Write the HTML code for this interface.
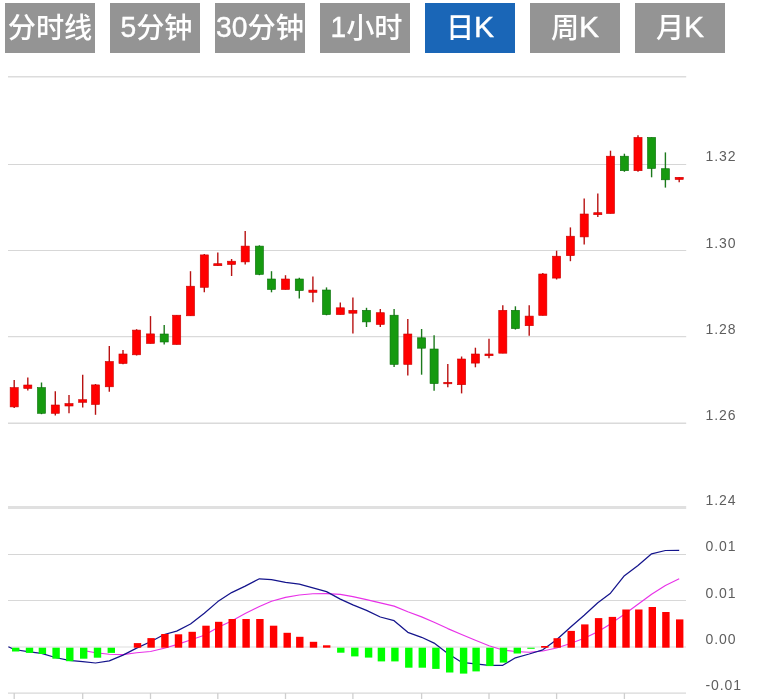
<!DOCTYPE html>
<html lang="zh-CN"><head><meta charset="utf-8"><title>K线图</title>
<style>
html,body{margin:0;padding:0;background:#fff;}
body{width:764px;height:699px;position:relative;overflow:hidden;font-family:"Liberation Sans","Noto Sans CJK SC",sans-serif;}
.tab{position:absolute;top:3px;width:90px;height:49.5px;line-height:50.6px;background:#949494;color:#fff;font-size:28.2px;font-weight:500;text-align:center;white-space:nowrap;}
.tab.on{background:#1a66b7;}
.l{font-size:30px;position:relative;top:-1px;-webkit-text-stroke:0.4px #fff;}
.d{display:inline-block;transform:scaleX(.94);margin:0 -1px;}
svg{position:absolute;left:0;top:0;}
.yl{font-family:"Liberation Sans",sans-serif;font-size:14px;fill:#5e5e5e;letter-spacing:0.9px;}
</style></head><body>
<div class="tabs"><div class="tab" style="left:5px">分时线</div><div class="tab" style="left:110px;text-indent:2px"><span class="l d">5</span>分钟</div><div class="tab" style="left:215px"><span class="l d">30</span>分钟</div><div class="tab" style="left:320px;text-indent:2px"><span class="l d">1</span>小时</div><div class="tab on" style="left:425px">日<span class="l">K</span></div><div class="tab" style="left:530px">周<span class="l">K</span></div><div class="tab" style="left:635px">月<span class="l">K</span></div></div>
<svg width="764" height="699" viewBox="0 0 764 699">
<line x1="8" x2="686.2" y1="76.8" y2="76.8" stroke="#dcdcdc" stroke-width="1.4"/>
<line x1="8" x2="686.2" y1="164.5" y2="164.5" stroke="#d6d6d6" stroke-width="1.0"/>
<line x1="8" x2="686.2" y1="250.55" y2="250.55" stroke="#d7d7d7" stroke-width="1.1"/>
<line x1="8" x2="686.2" y1="336.7" y2="336.7" stroke="#dadada" stroke-width="1.3"/>
<line x1="8" x2="686.2" y1="423.2" y2="423.2" stroke="#dadada" stroke-width="1.4"/>
<rect x="8" y="506" width="678.2" height="3" fill="#e0e0e0"/>
<line x1="8" x2="686" y1="554.5" y2="554.5" stroke="#d6d6d6" stroke-width="1.0"/>
<line x1="8" x2="686" y1="600.55" y2="600.55" stroke="#d8d8d8" stroke-width="1.1"/>
<line x1="8" x2="686" y1="647.0" y2="647.0" stroke="#e8e8e8" stroke-width="1.3"/>
<line x1="8" x2="686" y1="693.1" y2="693.1" stroke="#d8d8d8" stroke-width="1.4"/>
<line x1="14.20" x2="14.20" y1="693" y2="699" stroke="#cfcfcf" stroke-width="1.3"/>
<line x1="82.70" x2="82.70" y1="693" y2="699" stroke="#cfcfcf" stroke-width="1.3"/>
<line x1="150.50" x2="150.50" y1="693" y2="699" stroke="#cfcfcf" stroke-width="1.3"/>
<line x1="217.80" x2="217.80" y1="693" y2="699" stroke="#cfcfcf" stroke-width="1.3"/>
<line x1="285.50" x2="285.50" y1="693" y2="699" stroke="#cfcfcf" stroke-width="1.3"/>
<line x1="352.90" x2="352.90" y1="693" y2="699" stroke="#cfcfcf" stroke-width="1.3"/>
<line x1="421.60" x2="421.60" y1="693" y2="699" stroke="#cfcfcf" stroke-width="1.3"/>
<line x1="489.00" x2="489.00" y1="693" y2="699" stroke="#cfcfcf" stroke-width="1.3"/>
<line x1="556.60" x2="556.60" y1="693" y2="699" stroke="#cfcfcf" stroke-width="1.3"/>
<line x1="624.40" x2="624.40" y1="693" y2="699" stroke="#cfcfcf" stroke-width="1.3"/>
<line x1="14.20" x2="14.20" y1="380.0" y2="408.0" stroke="#b81212" stroke-width="1.4"/>
<rect x="10.15" y="387.6" width="8.1" height="19.3" fill="#ff0000" stroke="#c80000" stroke-width="0.6"/>
<line x1="27.80" x2="27.80" y1="377.5" y2="390.4" stroke="#b81212" stroke-width="1.4"/>
<rect x="23.75" y="385.0" width="8.1" height="3.5" fill="#ff0000" stroke="#c80000" stroke-width="0.6"/>
<line x1="41.50" x2="41.50" y1="382.5" y2="414.2" stroke="#1c7a1c" stroke-width="1.4"/>
<rect x="37.45" y="387.6" width="8.1" height="25.7" fill="#169a10" stroke="#0a6e0a" stroke-width="0.6"/>
<line x1="55.30" x2="55.30" y1="391.3" y2="415.5" stroke="#b81212" stroke-width="1.4"/>
<rect x="51.25" y="405.0" width="8.1" height="8.3" fill="#ff0000" stroke="#c80000" stroke-width="0.6"/>
<line x1="69.00" x2="69.00" y1="395.0" y2="413.3" stroke="#b81212" stroke-width="1.4"/>
<rect x="64.95" y="403.6" width="8.1" height="2.4" fill="#ff0000" stroke="#c80000" stroke-width="0.6"/>
<line x1="82.70" x2="82.70" y1="374.8" y2="407.4" stroke="#b81212" stroke-width="1.4"/>
<rect x="78.65" y="399.7" width="8.1" height="2.6" fill="#ff0000" stroke="#c80000" stroke-width="0.6"/>
<line x1="95.50" x2="95.50" y1="384.0" y2="414.8" stroke="#b81212" stroke-width="1.4"/>
<rect x="91.45" y="384.9" width="8.1" height="19.6" fill="#ff0000" stroke="#c80000" stroke-width="0.6"/>
<line x1="109.30" x2="109.30" y1="346.1" y2="391.8" stroke="#b81212" stroke-width="1.4"/>
<rect x="105.25" y="361.5" width="8.1" height="25.3" fill="#ff0000" stroke="#c80000" stroke-width="0.6"/>
<line x1="123.00" x2="123.00" y1="350.1" y2="364.3" stroke="#b81212" stroke-width="1.4"/>
<rect x="118.95" y="354.0" width="8.1" height="9.5" fill="#ff0000" stroke="#c80000" stroke-width="0.6"/>
<line x1="136.60" x2="136.60" y1="329.2" y2="355.5" stroke="#b81212" stroke-width="1.4"/>
<rect x="132.55" y="330.1" width="8.1" height="24.7" fill="#ff0000" stroke="#c80000" stroke-width="0.6"/>
<line x1="150.50" x2="150.50" y1="316.1" y2="343.5" stroke="#b81212" stroke-width="1.4"/>
<rect x="146.45" y="333.9" width="8.1" height="9.6" fill="#ff0000" stroke="#c80000" stroke-width="0.6"/>
<line x1="164.20" x2="164.20" y1="325.1" y2="344.5" stroke="#1c7a1c" stroke-width="1.4"/>
<rect x="160.15" y="334.0" width="8.1" height="8.0" fill="#169a10" stroke="#0a6e0a" stroke-width="0.6"/>
<line x1="176.70" x2="176.70" y1="315.2" y2="344.5" stroke="#b81212" stroke-width="1.4"/>
<rect x="172.65" y="315.2" width="8.1" height="29.3" fill="#ff0000" stroke="#c80000" stroke-width="0.6"/>
<line x1="190.50" x2="190.50" y1="271.2" y2="315.8" stroke="#b81212" stroke-width="1.4"/>
<rect x="186.45" y="286.2" width="8.1" height="29.6" fill="#ff0000" stroke="#c80000" stroke-width="0.6"/>
<line x1="204.30" x2="204.30" y1="254.0" y2="292.3" stroke="#b81212" stroke-width="1.4"/>
<rect x="200.25" y="254.9" width="8.1" height="32.4" fill="#ff0000" stroke="#c80000" stroke-width="0.6"/>
<line x1="217.80" x2="217.80" y1="252.4" y2="265.7" stroke="#b81212" stroke-width="1.4"/>
<rect x="213.75" y="263.7" width="8.1" height="2.0" fill="#ff0000" stroke="#c80000" stroke-width="0.6"/>
<line x1="231.60" x2="231.60" y1="259.0" y2="276.0" stroke="#b81212" stroke-width="1.4"/>
<rect x="227.55" y="261.2" width="8.1" height="3.3" fill="#ff0000" stroke="#c80000" stroke-width="0.6"/>
<line x1="245.20" x2="245.20" y1="231.1" y2="264.5" stroke="#b81212" stroke-width="1.4"/>
<rect x="241.15" y="246.1" width="8.1" height="15.8" fill="#ff0000" stroke="#c80000" stroke-width="0.6"/>
<line x1="259.40" x2="259.40" y1="245.3" y2="275.2" stroke="#1c7a1c" stroke-width="1.4"/>
<rect x="255.35" y="246.1" width="8.1" height="28.3" fill="#169a10" stroke="#0a6e0a" stroke-width="0.6"/>
<line x1="271.50" x2="271.50" y1="271.2" y2="292.3" stroke="#1c7a1c" stroke-width="1.4"/>
<rect x="267.45" y="279.0" width="8.1" height="10.5" fill="#169a10" stroke="#0a6e0a" stroke-width="0.6"/>
<line x1="285.50" x2="285.50" y1="275.2" y2="289.5" stroke="#b81212" stroke-width="1.4"/>
<rect x="281.45" y="279.0" width="8.1" height="10.5" fill="#ff0000" stroke="#c80000" stroke-width="0.6"/>
<line x1="299.30" x2="299.30" y1="277.8" y2="298.5" stroke="#1c7a1c" stroke-width="1.4"/>
<rect x="295.25" y="279.0" width="8.1" height="11.6" fill="#169a10" stroke="#0a6e0a" stroke-width="0.6"/>
<line x1="312.90" x2="312.90" y1="276.5" y2="302.3" stroke="#b81212" stroke-width="1.4"/>
<rect x="308.85" y="290.1" width="8.1" height="2.2" fill="#ff0000" stroke="#c80000" stroke-width="0.6"/>
<line x1="326.50" x2="326.50" y1="287.4" y2="315.3" stroke="#1c7a1c" stroke-width="1.4"/>
<rect x="322.45" y="290.0" width="8.1" height="24.6" fill="#169a10" stroke="#0a6e0a" stroke-width="0.6"/>
<line x1="340.30" x2="340.30" y1="302.4" y2="314.6" stroke="#b81212" stroke-width="1.4"/>
<rect x="336.25" y="307.8" width="8.1" height="6.8" fill="#ff0000" stroke="#c80000" stroke-width="0.6"/>
<line x1="352.90" x2="352.90" y1="297.5" y2="333.5" stroke="#b81212" stroke-width="1.4"/>
<rect x="348.85" y="310.3" width="8.1" height="2.9" fill="#ff0000" stroke="#c80000" stroke-width="0.6"/>
<line x1="366.50" x2="366.50" y1="307.8" y2="327.0" stroke="#1c7a1c" stroke-width="1.4"/>
<rect x="362.45" y="310.3" width="8.1" height="11.6" fill="#169a10" stroke="#0a6e0a" stroke-width="0.6"/>
<line x1="380.30" x2="380.30" y1="309.1" y2="326.9" stroke="#b81212" stroke-width="1.4"/>
<rect x="376.25" y="312.7" width="8.1" height="11.8" fill="#ff0000" stroke="#c80000" stroke-width="0.6"/>
<line x1="394.10" x2="394.10" y1="309.1" y2="367.0" stroke="#1c7a1c" stroke-width="1.4"/>
<rect x="390.05" y="315.2" width="8.1" height="49.2" fill="#169a10" stroke="#0a6e0a" stroke-width="0.6"/>
<line x1="407.80" x2="407.80" y1="319.1" y2="375.6" stroke="#b81212" stroke-width="1.4"/>
<rect x="403.75" y="334.0" width="8.1" height="30.4" fill="#ff0000" stroke="#c80000" stroke-width="0.6"/>
<line x1="421.60" x2="421.60" y1="329.0" y2="374.7" stroke="#1c7a1c" stroke-width="1.4"/>
<rect x="417.55" y="337.8" width="8.1" height="10.4" fill="#169a10" stroke="#0a6e0a" stroke-width="0.6"/>
<line x1="434.10" x2="434.10" y1="335.3" y2="390.7" stroke="#1c7a1c" stroke-width="1.4"/>
<rect x="430.05" y="349.0" width="8.1" height="34.6" fill="#169a10" stroke="#0a6e0a" stroke-width="0.6"/>
<line x1="447.80" x2="447.80" y1="364.0" y2="387.2" stroke="#b81212" stroke-width="1.4"/>
<rect x="443.75" y="382.3" width="8.1" height="1.5" fill="#ff0000" stroke="#c80000" stroke-width="0.6"/>
<line x1="461.60" x2="461.60" y1="356.5" y2="393.4" stroke="#b81212" stroke-width="1.4"/>
<rect x="457.55" y="359.0" width="8.1" height="25.7" fill="#ff0000" stroke="#c80000" stroke-width="0.6"/>
<line x1="475.40" x2="475.40" y1="347.7" y2="367.3" stroke="#b81212" stroke-width="1.4"/>
<rect x="471.35" y="354.0" width="8.1" height="9.1" fill="#ff0000" stroke="#c80000" stroke-width="0.6"/>
<line x1="489.00" x2="489.00" y1="338.7" y2="358.2" stroke="#b81212" stroke-width="1.4"/>
<rect x="484.95" y="354.0" width="8.1" height="1.7" fill="#ff0000" stroke="#c80000" stroke-width="0.6"/>
<line x1="502.80" x2="502.80" y1="305.3" y2="353.2" stroke="#b81212" stroke-width="1.4"/>
<rect x="498.75" y="310.3" width="8.1" height="42.9" fill="#ff0000" stroke="#c80000" stroke-width="0.6"/>
<line x1="515.40" x2="515.40" y1="306.3" y2="329.6" stroke="#1c7a1c" stroke-width="1.4"/>
<rect x="511.35" y="310.3" width="8.1" height="18.3" fill="#169a10" stroke="#0a6e0a" stroke-width="0.6"/>
<line x1="529.20" x2="529.20" y1="305.3" y2="335.7" stroke="#b81212" stroke-width="1.4"/>
<rect x="525.15" y="316.1" width="8.1" height="9.6" fill="#ff0000" stroke="#c80000" stroke-width="0.6"/>
<line x1="542.80" x2="542.80" y1="273.0" y2="315.4" stroke="#b81212" stroke-width="1.4"/>
<rect x="538.75" y="274.0" width="8.1" height="41.4" fill="#ff0000" stroke="#c80000" stroke-width="0.6"/>
<line x1="556.60" x2="556.60" y1="250.7" y2="279.5" stroke="#b81212" stroke-width="1.4"/>
<rect x="552.55" y="256.2" width="8.1" height="21.9" fill="#ff0000" stroke="#c80000" stroke-width="0.6"/>
<line x1="570.40" x2="570.40" y1="227.4" y2="261.2" stroke="#b81212" stroke-width="1.4"/>
<rect x="566.35" y="236.2" width="8.1" height="19.5" fill="#ff0000" stroke="#c80000" stroke-width="0.6"/>
<line x1="584.20" x2="584.20" y1="198.6" y2="244.5" stroke="#b81212" stroke-width="1.4"/>
<rect x="580.15" y="214.0" width="8.1" height="22.9" fill="#ff0000" stroke="#c80000" stroke-width="0.6"/>
<line x1="597.80" x2="597.80" y1="193.6" y2="217.0" stroke="#b81212" stroke-width="1.4"/>
<rect x="593.75" y="212.7" width="8.1" height="2.0" fill="#ff0000" stroke="#c80000" stroke-width="0.6"/>
<line x1="610.50" x2="610.50" y1="150.7" y2="213.5" stroke="#b81212" stroke-width="1.4"/>
<rect x="606.45" y="156.2" width="8.1" height="57.3" fill="#ff0000" stroke="#c80000" stroke-width="0.6"/>
<line x1="624.40" x2="624.40" y1="153.7" y2="171.8" stroke="#1c7a1c" stroke-width="1.4"/>
<rect x="620.35" y="156.2" width="8.1" height="14.5" fill="#169a10" stroke="#0a6e0a" stroke-width="0.6"/>
<line x1="638.00" x2="638.00" y1="135.3" y2="171.8" stroke="#b81212" stroke-width="1.4"/>
<rect x="633.95" y="137.4" width="8.1" height="33.3" fill="#ff0000" stroke="#c80000" stroke-width="0.6"/>
<line x1="651.60" x2="651.60" y1="137.4" y2="177.3" stroke="#1c7a1c" stroke-width="1.4"/>
<rect x="647.55" y="137.4" width="8.1" height="31.1" fill="#169a10" stroke="#0a6e0a" stroke-width="0.6"/>
<line x1="665.40" x2="665.40" y1="152.4" y2="187.6" stroke="#1c7a1c" stroke-width="1.4"/>
<rect x="661.35" y="168.7" width="8.1" height="11.1" fill="#169a10" stroke="#0a6e0a" stroke-width="0.6"/>
<line x1="679.20" x2="679.20" y1="177.3" y2="182.3" stroke="#b81212" stroke-width="1.4"/>
<rect x="675.15" y="177.3" width="8.1" height="2.2" fill="#ff0000" stroke="#c80000" stroke-width="0.6"/>
<polyline points="82.70,650.4 95.50,652.8 109.30,654.3 123.00,654.6 136.60,652.8 150.50,651.5 164.20,648.3 176.70,644.6 190.50,640 204.30,635.3 217.80,627.6 231.60,621 245.20,613.5 259.40,606.5 271.50,601.2 285.50,597.4 299.30,595 312.90,593.8 326.50,593.6 340.30,594.4 352.90,596.6 366.50,599.6 380.30,602.9 394.10,606.1 407.80,611.8 421.60,616.9 434.10,622.2 447.80,628.6 461.60,634.5 475.40,640.2 489.00,645.8 502.80,650 515.40,651.5 529.20,652.3 542.80,651 556.60,648 570.40,643.5 584.20,638.3 597.80,631.8 610.50,623.9 624.40,614.2 638.00,604.3 651.60,594.3 665.40,585.5 679.20,578.7" fill="none" stroke="#e832e8" stroke-width="1.15" stroke-linejoin="round"/>
<polyline points="8.4,646.8 14.20,649.5 27.80,651.7 41.50,653.3 55.30,657.5 69.00,660.3 82.70,661.7 95.50,663 109.30,660.8 123.00,655.1 136.60,648.1 150.50,641.8 164.20,634.5 176.70,631.1 190.50,624 204.30,613.2 217.80,601.6 231.60,592.6 245.20,586.1 259.40,578.8 271.50,579.6 285.50,582.4 299.30,584.1 312.90,587.9 326.50,591.6 340.30,599.1 352.90,604.9 366.50,610.4 380.30,617 394.10,620.7 407.80,632.3 421.60,637.3 434.10,643.1 447.80,653.5 461.60,662.3 475.40,663.9 489.00,665.3 502.80,665.3 515.40,657.8 529.20,654 542.80,649.8 556.60,639.8 570.40,627.3 584.20,615.3 597.80,602.7 610.50,593.2 624.40,575.7 638.00,565.4 651.60,553.8 665.40,550.5 679.20,550.3" fill="none" stroke="#14148c" stroke-width="1.25" stroke-linejoin="round"/>
<rect x="12.00" y="647.7" width="7.4" height="3.8" fill="#00ff00"/>
<rect x="25.80" y="647.7" width="7.4" height="5.2" fill="#00ff00"/>
<rect x="38.70" y="647.7" width="7.4" height="6.3" fill="#00ff00"/>
<rect x="52.40" y="647.7" width="7.4" height="11.0" fill="#00ff00"/>
<rect x="66.10" y="647.7" width="7.4" height="13.5" fill="#00ff00"/>
<rect x="80.00" y="647.7" width="7.4" height="11.0" fill="#00ff00"/>
<rect x="93.80" y="647.7" width="7.4" height="10.0" fill="#00ff00"/>
<rect x="107.60" y="647.7" width="7.4" height="5.2" fill="#00ff00"/>
<rect x="133.80" y="643.1" width="7.4" height="4.6" fill="#ff0000"/>
<rect x="147.40" y="638.1" width="7.4" height="9.6" fill="#ff0000"/>
<rect x="161.20" y="634" width="7.4" height="13.7" fill="#ff0000"/>
<rect x="174.80" y="634.3" width="7.4" height="13.4" fill="#ff0000"/>
<rect x="188.50" y="631.8" width="7.4" height="15.9" fill="#ff0000"/>
<rect x="202.30" y="625.7" width="7.4" height="22.0" fill="#ff0000"/>
<rect x="215.00" y="621.8" width="7.4" height="25.9" fill="#ff0000"/>
<rect x="228.50" y="619" width="7.4" height="28.7" fill="#ff0000"/>
<rect x="242.40" y="619" width="7.4" height="28.7" fill="#ff0000"/>
<rect x="256.20" y="619" width="7.4" height="28.7" fill="#ff0000"/>
<rect x="269.90" y="625.7" width="7.4" height="22.0" fill="#ff0000"/>
<rect x="283.50" y="632.8" width="7.4" height="14.9" fill="#ff0000"/>
<rect x="296.10" y="636.8" width="7.4" height="10.9" fill="#ff0000"/>
<rect x="309.80" y="641.8" width="7.4" height="5.9" fill="#ff0000"/>
<rect x="323.00" y="645.3" width="7.4" height="2.4" fill="#ff0000"/>
<rect x="337.10" y="647.7" width="7.4" height="5.0" fill="#00ff00"/>
<rect x="351.10" y="647.7" width="7.4" height="8.7" fill="#00ff00"/>
<rect x="364.90" y="647.7" width="7.4" height="9.9" fill="#00ff00"/>
<rect x="377.70" y="647.7" width="7.4" height="13.7" fill="#00ff00"/>
<rect x="391.20" y="647.7" width="7.4" height="13.7" fill="#00ff00"/>
<rect x="405.10" y="647.7" width="7.4" height="20.0" fill="#00ff00"/>
<rect x="418.60" y="647.7" width="7.4" height="20.0" fill="#00ff00"/>
<rect x="432.20" y="647.7" width="7.4" height="21.2" fill="#00ff00"/>
<rect x="446.00" y="647.7" width="7.4" height="24.8" fill="#00ff00"/>
<rect x="459.90" y="647.7" width="7.4" height="25.9" fill="#00ff00"/>
<rect x="472.40" y="647.7" width="7.4" height="23.7" fill="#00ff00"/>
<rect x="486.20" y="647.7" width="7.4" height="18.4" fill="#00ff00"/>
<rect x="499.80" y="647.7" width="7.4" height="14.9" fill="#00ff00"/>
<rect x="513.60" y="647.7" width="7.4" height="5.8" fill="#00ff00"/>
<rect x="527.30" y="647.7" width="7.4" height="1.1" fill="#00ff00"/>
<rect x="541.10" y="646" width="7.4" height="1.7" fill="#ff0000"/>
<rect x="553.50" y="638.2" width="7.4" height="9.5" fill="#ff0000"/>
<rect x="567.50" y="630.9" width="7.4" height="16.8" fill="#ff0000"/>
<rect x="581.10" y="624.4" width="7.4" height="23.3" fill="#ff0000"/>
<rect x="594.90" y="618.1" width="7.4" height="29.6" fill="#ff0000"/>
<rect x="608.70" y="616.9" width="7.4" height="30.8" fill="#ff0000"/>
<rect x="622.30" y="609.5" width="7.4" height="38.2" fill="#ff0000"/>
<rect x="635.10" y="609.5" width="7.4" height="38.2" fill="#ff0000"/>
<rect x="648.60" y="607" width="7.4" height="40.7" fill="#ff0000"/>
<rect x="662.20" y="612" width="7.4" height="35.7" fill="#ff0000"/>
<rect x="676.00" y="619.4" width="7.4" height="28.3" fill="#ff0000"/>
<text x="705.5" y="161.1" class="yl">1.32</text>
<text x="705.5" y="247.6" class="yl">1.30</text>
<text x="705.5" y="334.1" class="yl">1.28</text>
<text x="705.5" y="420.2" class="yl">1.26</text>
<text x="705.5" y="505.1" class="yl">1.24</text>
<text x="705.5" y="551.1" class="yl">0.01</text>
<text x="705.5" y="597.5" class="yl">0.01</text>
<text x="705.5" y="643.9" class="yl">0.00</text>
<text x="705.5" y="690.0" class="yl">-0.01</text>
</svg>
</body></html>
